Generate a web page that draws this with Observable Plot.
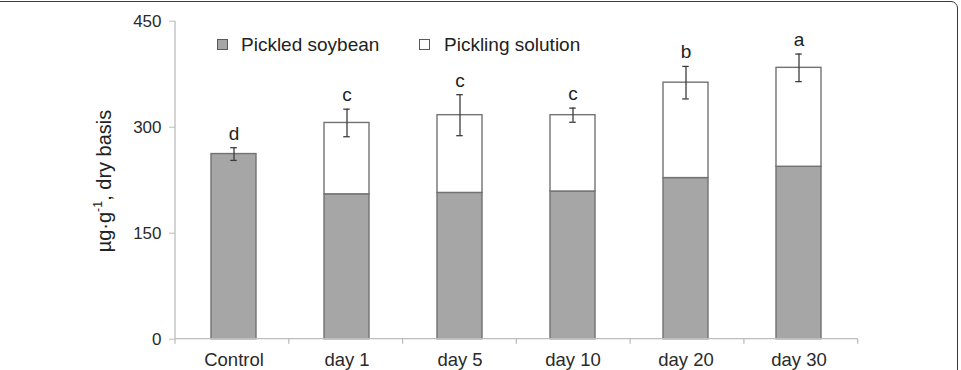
<!DOCTYPE html>
<html>
<head>
<meta charset="utf-8">
<script src="https://cdn.jsdelivr.net/npm/d3@7"></script>
<script src="https://cdn.jsdelivr.net/npm/@observablehq/plot@0.6"></script>
<style>
  html, body { margin: 0; padding: 0; background: #fff; overflow: hidden; }
  #wrap { position: relative; width: 961px; height: 370px; overflow: hidden; font-family: "Liberation Sans", Arial, sans-serif; color: #222; }
  #frame { position: absolute; left: -20px; top: 0.5px; width: 978px; height: 430px; border: 1.3px solid #3a3a3a; border-radius: 7px; box-sizing: border-box; pointer-events: none; }
  #chart { position: absolute; left: 0; top: 0; }
  .sw { position: absolute; width: 11px; height: 11px; box-sizing: border-box; border: 1px solid #5a5a5a; }
  .lg { position: absolute; font-size: 19px; line-height: 19px; white-space: nowrap; color: #222; }
  #ytitle { position: absolute; font-size: 20px; line-height: 20px; white-space: nowrap; color: #222; transform-origin: center center; }
  #ytitle sup { font-size: 0.62em; line-height: 0; position: relative; top: -0.1em; vertical-align: super; }
</style>
</head>
<body>
<div id="wrap">
  <div id="chart"></div>
  <div id="legend"></div>
  <div id="ytitle">µg·g<sup>-1</sup>, dry basis</div>
  <div id="frame"></div>
</div>
<script>
// ---- data ----
const categories = ["Control", "day 1", "day 5", "day 10", "day 20", "day 30"];
const seriesNames = ["Pickled soybean", "Pickling solution"];
const soybean  = [262, 205, 207, 209, 228, 244];
const solution = [0, 101, 110, 108, 135, 140];
const sd       = [9, 19.5, 29, 10, 23, 19.5];
const letters  = ["d", "c", "c", "c", "b", "a"];
const yTicks   = [0, 150, 300, 450];

// ---- tables built from the arrays ----
const rows = [];
categories.forEach((c, i) => {
  rows.push({cat: c, series: seriesNames[0], value: soybean[i]});
  if (solution[i] > 0) rows.push({cat: c, series: seriesNames[1], value: solution[i]});
});
const err = categories.map((c, i) => {
  const total = soybean[i] + solution[i];
  return {cat: c, lo: total - sd[i], hi: total + sd[i], letter: letters[i]};
});

const W = 961, H = 370;
const mL = 175, mR = 103.3, mT = 20.7, mB = 31.3;
const step = (W - mL - mR) / categories.length;
const bandwidth = step * 0.4;
const capW = 7;
const capInset = (bandwidth - capW) / 2;

const AXIS = "#bdbdbd";

function axisLines(index, scales, values, dims) {
  const ns = "http://www.w3.org/2000/svg";
  const g = document.createElementNS(ns, "g");
  const left = dims.marginLeft, right = dims.width - dims.marginRight;
  const y0 = scales.y(0), yTop = scales.y(yTicks[yTicks.length - 1]);
  const n = categories.length, st = (right - left) / n;
  const add = (x1, y1, x2, y2) => {
    const l = document.createElementNS(ns, "line");
    l.setAttribute("x1", x1); l.setAttribute("y1", y1);
    l.setAttribute("x2", x2); l.setAttribute("y2", y2);
    l.setAttribute("stroke", AXIS); l.setAttribute("stroke-width", 1.3);
    g.appendChild(l);
  };
  add(left, yTop, left, y0);
  add(left, y0, right, y0);
  for (let i = 0; i <= n; i++) add(left + i * st, y0, left + i * st, y0 + 5);
  return g;
}

const plot = Plot.plot({
  width: W, height: H,
  marginLeft: mL, marginRight: mR, marginTop: mT, marginBottom: mB,
  style: {fontFamily: '"Liberation Sans", Arial, sans-serif', background: "transparent", color: "#222"},
  x: {domain: categories, paddingInner: 0.6, paddingOuter: 0.3, label: null},
  y: {domain: [0, 450], label: null},
  color: {domain: seriesNames, range: ["#a6a6a6", "#ffffff"]},
  marks: [
    Plot.barY(rows, Plot.stackY({x: "cat", y: "value", fill: "series", order: seriesNames, stroke: "#727272", strokeWidth: 1.4})),
    Plot.ruleX(err, {x: "cat", y1: "lo", y2: "hi", stroke: "#3c3c3c", strokeWidth: 1.3}),
    Plot.tickY(err, {x: "cat", y: "lo", stroke: "#3c3c3c", strokeWidth: 1.3, insetLeft: capInset, insetRight: capInset}),
    Plot.tickY(err, {x: "cat", y: "hi", stroke: "#3c3c3c", strokeWidth: 1.3, insetLeft: capInset, insetRight: capInset}),
    Plot.text(err, {x: "cat", y: "hi", text: "letter", dy: -8, lineAnchor: "bottom", fontSize: 19, fill: "#1e1e1e"}),
    axisLines,
    Plot.axisY({ticks: yTicks, tickSize: 6, tickPadding: 8, fontSize: 17, stroke: AXIS, fill: "#2a2a2a", label: null, tickFormat: d => String(d)}),
    Plot.axisX({tickSize: 0, tickPadding: 14, fontSize: 18.5, fill: "#2a2a2a", label: null})
  ]
});
document.getElementById("chart").appendChild(plot);

// ---- legend (HTML, above the plot area) ----
const legend = document.getElementById("legend");
const legendItems = [
  {name: seriesNames[0], fill: "#a6a6a6", swX: 217, txtX: 241},
  {name: seriesNames[1], fill: "#ffffff", swX: 419, txtX: 444}
];
legendItems.forEach(it => {
  const sw = document.createElement("div");
  sw.className = "sw";
  sw.style.left = it.swX + "px"; sw.style.top = "38.5px"; sw.style.background = it.fill;
  legend.appendChild(sw);
  const t = document.createElement("div");
  t.className = "lg";
  t.style.left = it.txtX + "px"; t.style.top = "35.4px";
  t.textContent = it.name;
  legend.appendChild(t);
});

// ---- y title, rotated, centred at (104, 181) ----
const yt = document.getElementById("ytitle");
const r = yt.getBoundingClientRect();
yt.style.left = (104 - r.width / 2) + "px";
yt.style.top = (181 - r.height / 2) + "px";
yt.style.transform = "rotate(-90deg)";
</script>
</body>
</html>
